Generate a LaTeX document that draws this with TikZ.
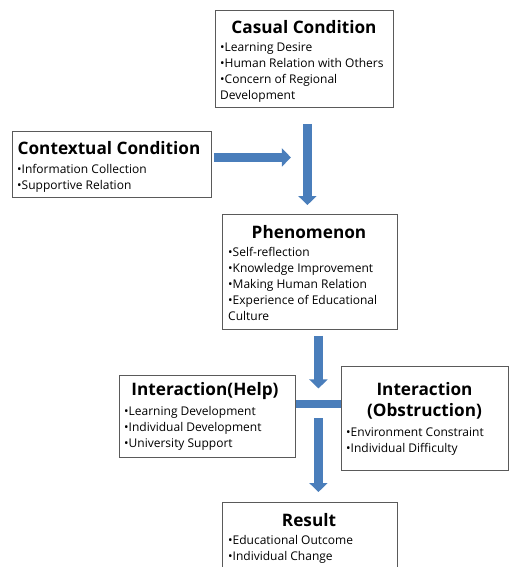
\documentclass[tikz,border=0pt]{standalone}
\usepackage{fontspec}
\setmainfont{Open Sans}
\usetikzlibrary{arrows.meta,calc}
\definecolor{arrowblue}{HTML}{4A7EBB}
\definecolor{boxline}{HTML}{5A5A5A}
\tikzset{
 box/.style={draw=boxline, line width=0.9pt, fill=white, inner sep=0, anchor=north west},
 ttl/.style={font=\fontsize{17.2}{21}\selectfont\bfseries, inner sep=0, anchor=center, align=center},
 body/.style={font=\fontsize{12}{16}\selectfont, align=left, inner sep=0, anchor=north west},
 barrow/.style={draw=arrowblue, line width=9pt, -{Triangle[length=9pt,width=18pt]}},
 bar/.style={draw=arrowblue, line width=8pt},
}
\begin{document}
\begin{tikzpicture}[x=1pt,y=-1pt]
\clip (0,0) rectangle (509,567);
\fill[white] (0,0) rectangle (509,567);
% boxes
\node[box, minimum width=178, minimum height=97] (cas) at (215,10) {};
\node[box, minimum width=199, minimum height=66] (ctx) at (12,131) {};
\node[box, minimum width=175, minimum height=115] (phen) at (222,214) {};
\node[box, minimum width=176, minimum height=82] (help) at (119,375) {};
\node[box, minimum width=167, minimum height=104] (obs) at (341,366) {};
\node[box, minimum width=175, minimum height=80] (res) at (222,502) {};
% titles
\node[ttl] (casT) at (304,27) {Casual Condition};
\node[ttl] (ctxT) at (109,148) {Contextual Condition};
\node[ttl] (phenT) at (309,232) {Phenomenon};
\node[ttl] (helpT) at (205,391) {Interaction(Help)};
\node[ttl] (obsT) at (424.5,401) {Interaction\\(Obstruction)};
\node[ttl] (resT) at (309,520) {Result};
% bodies
\node[body] (casB) at (220,42) {•Learning Desire\\•Human Relation with Others\\•Concern of Regional\\Development};
\node[body] (ctxB) at (17,164) {•Information Collection\\•Supportive Relation};
\node[body] (phenB) at (228,247) {•Self-reflection\\•Knowledge Improvement\\•Making Human Relation\\•Experience of Educational\\Culture};
\node[body] (helpB) at (124,406) {•Learning Development\\•Individual Development\\•University Support};
\node[body] (obsB) at (346,427) {•Environment Constraint\\•Individual Difficulty};
\node[body] (resB) at (228,535) {•Educational Outcome\\•Individual Change};
% connectors
\coordinate (ctxEnd) at ($(ctx.east)+(79,-7)$);
\draw[barrow] ($(ctx.east)+(2,-7)$) -- (ctxEnd);
\draw[barrow] ($(cas.south)+(3,16)$) -- ($(phen.north)+(-2.5,-9)$);
\coordinate (j) at ($(help.east)!0.5!(obs.west)+(0,-13)$);
\draw[barrow] ($(phen.south)+(8.5,6)$) -- ($(j)+(0,-16)$);
\draw[bar] ($(help.east)+(0,-12)$) -- ($(obs.west)+(0,-14)$);
\draw[barrow] ($(j)+(0,14)$) -- ($(res.north)+(8.5,-10)$);
\end{tikzpicture}
\end{document}
